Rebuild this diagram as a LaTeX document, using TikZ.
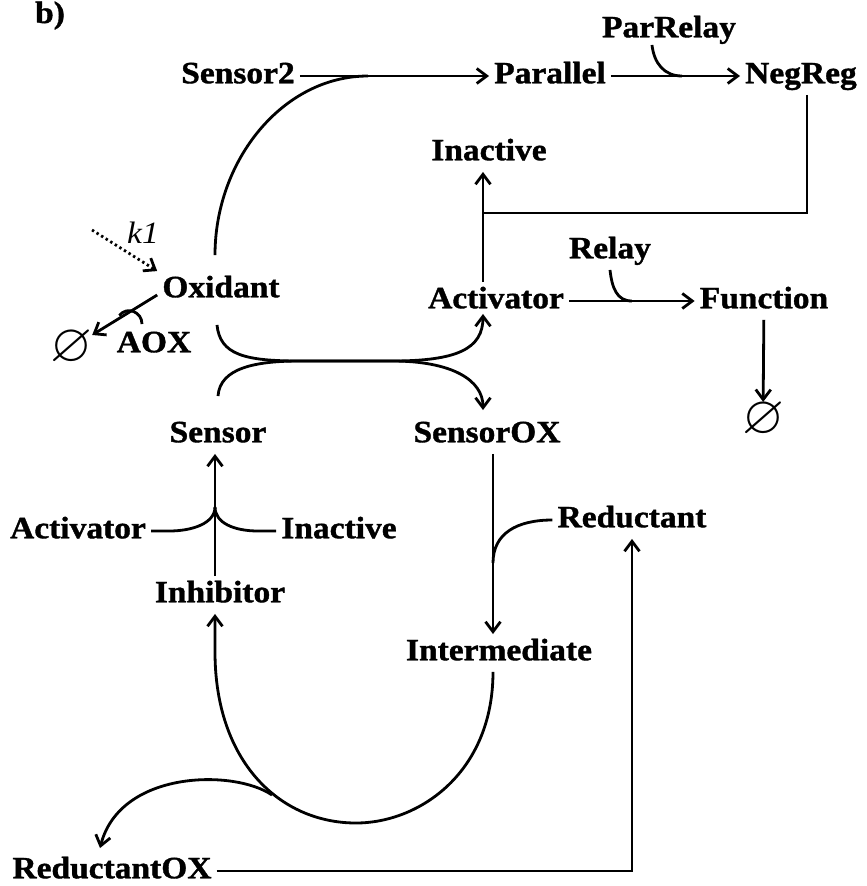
\documentclass[tikz,border=0pt]{standalone}
\usepackage{amssymb}
\usepackage{fontspec}
\setmainfont[FakeStretch=1.08, BoldFeatures={FakeBold=1.2}]{Liberation Serif}
\usepackage{tikz}
\usetikzlibrary{arrows.meta, positioning, calc}

\begin{document}
\begin{tikzpicture}[x=1pt, y=-1pt,
    every node/.style={font=\bfseries\fontsize{31}{33}\selectfont, inner sep=5pt,
                       text height=21pt, text depth=6.5pt},
    flow/.style={line width=2.8pt},
    arr/.style={flow, -{Straight Barb[length=10pt, width=15pt]}},
    nullset/.style={font=\fontsize{54}{56}\selectfont, inner sep=0pt,
                    text height=, text depth=}]
    \useasboundingbox (0,0) rectangle (867,886);

    \node[anchor=base, inner sep=0pt, text height=, text depth=] (tag) at (50,23) {b)};
    \node (sensTwo) at (238,76) {Sensor2};
    \node (par) at (550,76) {Parallel};
    \node (neg) at (801,76) {NegReg};
    \node (parRel) at (669,30) {ParRelay};
    \node (inactT) at (489,153) {Inactive};
    \node (relay) at (610,251) {Relay};
    \node (actT) at (496,301) {Activator};
    \node (func) at (764,301) {Function};
    \node[nullset] (nullR) at (763,420) {$\varnothing$};
    \node[font=\itshape\fontsize{31}{33}\selectfont] (kOne) at (143,236) {k1};
    \node (oxi) at (221,290) {Oxidant};
    \node (aox) at (154,345) {AOX};
    \node[nullset] (nullL) at (71,348) {$\varnothing$};
    \node (sens) at (218,435) {Sensor};
    \node (sensOX) at (487,435) {SensorOX};
    \node (actL) at (78,531) {Activator};
    \node (inactL) at (339,531) {Inactive};
    \node (inh) at (220,595) {Inhibitor};
    \node (red) at (632,520) {Reductant};
    \node (inter) at (499,653) {Intermediate};
    \node (redOX) at (112,871) {ReductantOX};

    \coordinate (stem) at (483,213);
    \coordinate (sj) at (215,507);
    \coordinate (rj) at (493,563);
    \coordinate (mixL) at (300,361);
    \coordinate (mixR) at (392,361);
    \coordinate (uBot) at (356,823);
    \coordinate (uJ) at (272,795);
    \coordinate (kIn) at (92,230);
    \coordinate (joinP) at ($(sensTwo.east)!0.36!(par.west)$);
    \coordinate (joinN) at ($(par.east)!0.55!(neg.west)$);
    \coordinate (joinF) at ($(actT.east)!0.5!(func.west)$);
    \coordinate (aoxJ) at ($(oxi.west)!0.44!(nullL)$);

    \draw[arr] (sensTwo) -- (par);
    \draw[flow] (oxi.north) ++(-6,-16) .. controls +(0,-95) and +(-85,0) .. (joinP);
    \draw[arr] (par) -- (neg);
    \draw[flow] (parRel.south) ++(-17,-4) .. controls +(2,18) and +(-18,0) .. (joinN);
    \draw[arr] (stem |- actT.north) -- (stem |- inactT.south);
    \draw[flow] ($(neg.south)+(6,0)$) |- (stem);
    \draw[arr] (actT) -- (func);
    \draw[flow] (relay.south) .. controls +(2,18) and +(-15,0) .. (joinF);
    \draw[arr] (func) -- (nullR);

    \draw[arr, dash pattern=on 2.4pt off 3pt] (kIn) -- (oxi.north west);
    \draw[arr] ($(oxi.west)+(0,5)$) -- (nullL);
    \draw[flow] (aoxJ) .. controls +(8,-10) and +(0,-12) .. ($(aox.north)+(-12,-2)$);

    \draw[arr] (oxi.south) ++(-4,16) .. controls +(3,30) and +(-55,0) .. (mixL)
        -- (mixR) .. controls +(65,0) and +(0,35) .. ($(stem |- actT.south)+(0,-6)$);
    \draw[arr] (sens.north) ++(0,-20) .. controls +(2,-28) and +(-45,0) .. (mixL)
        -- (mixR) .. controls +(60,0) and +(0,-30) .. ($(stem |- sensOX.north)+(0,-6)$);

    \draw[arr] (sj |- inh.north) -- (sj |- sens.south);
    \draw[flow] (actL.east) -- ++(18,0) .. controls +(24,0) and +(0,16) .. (sj);
    \draw[flow] (inactL.west) -- ++(-18,0) .. controls +(-24,0) and +(0,16) .. (sj);

    \draw[arr] (rj |- sensOX.south) -- (rj |- inter.north);
    \draw[flow] (red.west) .. controls +(-35,0) and +(0,-30) .. (rj);
    \draw[arr] (redOX.east) -| (red.south);

    \draw[arr] (rj |- inter.south) .. controls +(0,100) and +(64,0) .. (uBot)
        .. controls +(-76,0) and +(0,110) .. ($(sj |- inh.south)+(0,38)$)
        -- (sj |- inh.south);
    \draw[arr] (uJ) .. controls +(-38,-26) and +(20,-78) .. ($(redOX.north)+(-12,-4)$);
\end{tikzpicture}
\end{document}
